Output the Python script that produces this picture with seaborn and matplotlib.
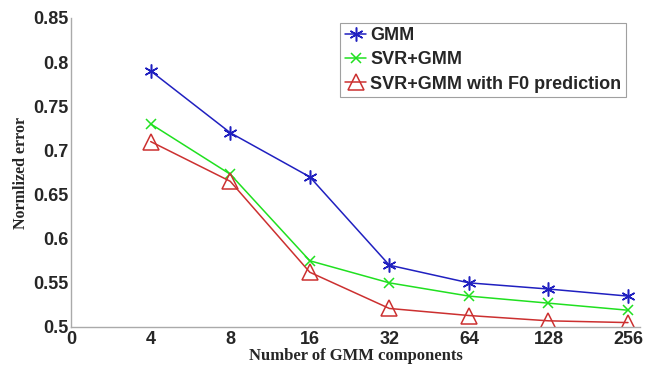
import matplotlib
matplotlib.use("Agg")
import matplotlib.pyplot as plt
import seaborn as sns
import pandas as pd
import numpy as np

tick_labels = ["0", "4", "8", "16", "32", "64", "128", "256"]
components = ["4", "8", "16", "32", "64", "128", "256"]
gmm = [0.790, 0.720, 0.670, 0.570, 0.550, 0.543, 0.535]
svr_gmm = [0.730, 0.673, 0.575, 0.550, 0.535, 0.527, 0.519]
svr_gmm_f0 = [0.710, 0.665, 0.562, 0.521, 0.513, 0.507, 0.505]

series = [
    ("GMM", gmm, "#2020c0", (6, 2, 0), "#2020c0", 10),
    ("SVR+GMM", svr_gmm, "#20e020", "x", "#20e020", 7.5),
    ("SVR+GMM with F0 prediction", svr_gmm_f0, "#cc3030", "^", "none", 11),
]

sns.set_style("white")
plt.rcParams["font.family"] = ["Liberation Sans", "DejaVu Sans"]

fig = plt.figure(figsize=(6.53, 3.67), dpi=100)
ax = fig.add_axes([0.109, 0.109, 0.871, 0.842])

pos = {c: tick_labels.index(c) for c in components}
for name, vals, col, mk, mfc, ms in series:
    df = pd.DataFrame({"x": [pos[c] for c in components], "y": vals})
    sns.lineplot(data=df, x="x", y="y", ax=ax, color=col, marker=mk,
                 markersize=ms, markerfacecolor=mfc, markeredgecolor=col,
                 markeredgewidth=1.1, linewidth=1.1, label=name)

ax.set_xlim(0, 7.15)
ax.set_ylim(0.5, 0.85)
ax.set_xticks(range(len(tick_labels)))
ax.set_xticklabels(tick_labels)
ax.set_yticks([0.5, 0.55, 0.6, 0.65, 0.7, 0.75, 0.8, 0.85])
ax.set_yticklabels(["0.5", "0.55", "0.6", "0.65", "0.7", "0.75", "0.8", "0.85"])
for lab in ax.get_xticklabels() + ax.get_yticklabels():
    lab.set_fontweight("bold")
    lab.set_fontsize(13)
ax.tick_params(direction="in", length=4, width=0.8, color="#888888", pad=2)
ax.tick_params(axis="x", pad=3)

for s in ["top", "right"]:
    ax.spines[s].set_visible(False)
for s in ["left", "bottom"]:
    ax.spines[s].set_color("#aaaaaa")
    ax.spines[s].set_linewidth(1.0)

ax.set_xlabel("Number of GMM components", family="Liberation Serif",
              fontweight="bold", fontsize=12, labelpad=0)
ax.set_ylabel("Normlized error", family="Liberation Serif",
              fontweight="bold", fontsize=11.5, labelpad=3)

leg = ax.legend(loc="upper left", bbox_to_anchor=(0.473, 0.985),
                prop={"family": "Liberation Sans", "weight": "bold", "size": 13},
                frameon=True, fancybox=False, handlelength=1.2,
                handletextpad=0.2, borderpad=0.25, labelspacing=0.4,
                borderaxespad=0)
leg.get_frame().set_edgecolor("#888888")
leg.get_frame().set_linewidth(0.8)

fig.savefig("out.png", dpi=100)
